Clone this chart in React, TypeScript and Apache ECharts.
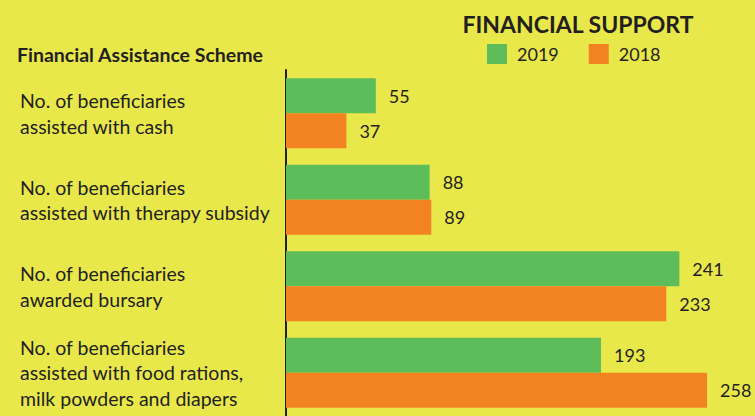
import React, { useEffect, useRef } from "react";
import * as echarts from "echarts";

const categories = [
  "No. of beneficiaries\nassisted with cash",
  "No. of beneficiaries\nassisted with therapy subsidy",
  "No. of beneficiaries\nawarded bursary",
  "No. of beneficiaries\nassisted with food rations,\nmilk powders and diapers",
];
const values2019 = [55, 88, 241, 193];
const values2018 = [37, 89, 233, 258];
const seriesNames = ["2019", "2018"];
const title = "FINANCIAL SUPPORT";
const axisHeader = "Financial Assistance Scheme";

const GREEN = "#5cbd5a";
const ORANGE = "#f38221";
const BG = "#e9e84a";
const TEXT = "#231f20";
const FONT = "Lato, 'Open Sans', sans-serif";

export default function App() {
  const ref = useRef<HTMLDivElement>(null);
  useEffect(() => {
    if (!ref.current) return;
    const chart = echarts.init(ref.current, undefined, { renderer: "svg" });
    const valueLabel = {
      show: true,
      position: "right",
      distance: 13,
      fontSize: 18,
      color: TEXT,
      fontFamily: FONT,
    };
    chart.setOption({
      animation: false,
      backgroundColor: BG,
      textStyle: { fontFamily: FONT },
      title: {
        text: title,
        left: 573,
        textAlign: "center",
        top: 7,
        textStyle: { fontSize: 23, fontWeight: "bold", color: TEXT, fontFamily: FONT },
      },
      legend: {
        data: seriesNames,
        left: 487,
        top: 44,
        padding: 0,
        itemWidth: 20,
        itemHeight: 20,
        itemGap: 30,
        icon: "rect",
        textStyle: { fontSize: 18, color: TEXT, fontFamily: FONT, padding: [0, 0, 0, 5] },
      },
      graphic: [
        {
          type: "text",
          left: 17,
          top: 44,
          style: { text: axisHeader, fontSize: 19.5, fontWeight: "bold", fill: TEXT, fontFamily: FONT },
        },
      ],
      grid: { left: 286, top: 70, width: 457, bottom: -2 },
      xAxis: {
        type: "value",
        min: 0,
        max: 280,
        show: false,
      },
      yAxis: {
        type: "category",
        data: categories,
        inverse: true,
        axisLine: { show: true, lineStyle: { color: TEXT, width: 2 } },
        axisTick: { show: false },
        axisLabel: {
          align: "left",
          margin: 266,
          fontSize: 19.5,
          lineHeight: 25.5,
          color: TEXT,
          fontFamily: FONT,
        },
      },
      series: [
        {
          name: seriesNames[0],
          type: "bar",
          data: values2019,
          barWidth: 35,
          barGap: "0%",
          itemStyle: { color: GREEN },
          label: valueLabel,
        },
        {
          name: seriesNames[1],
          type: "bar",
          data: values2018,
          barWidth: 35,
          barGap: "0%",
          itemStyle: { color: ORANGE },
          label: valueLabel,
        },
      ],
    });
    return () => chart.dispose();
  }, []);
  return (
    <div
      ref={ref}
      style={{ position: "absolute", left: 0, top: 0, width: 755, height: 416 }}
    />
  );
}
